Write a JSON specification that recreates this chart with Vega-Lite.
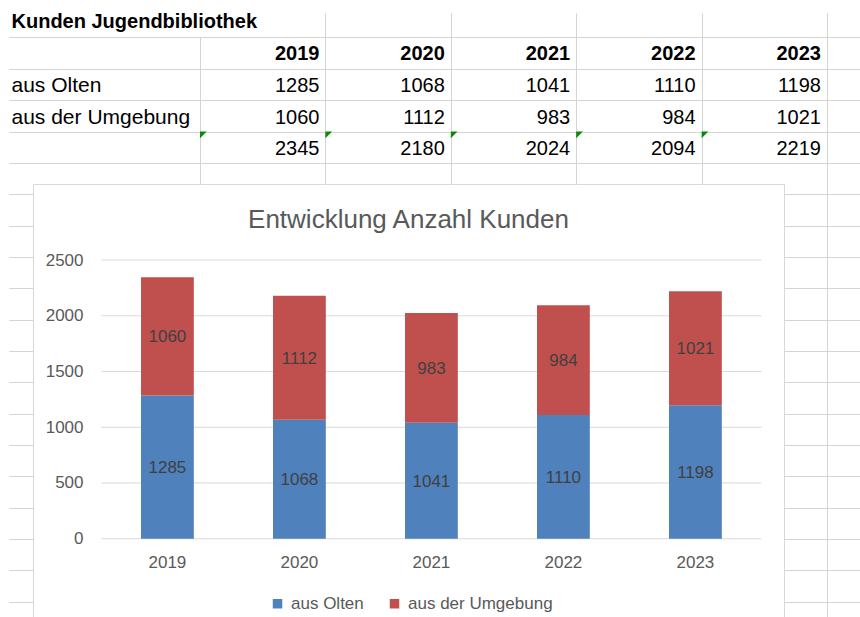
{
  "$schema": "https://vega.github.io/schema/vega-lite/v6.json",
  "padding": {"left": 8, "top": 11, "right": 0, "bottom": 0},
  "config": {"font": "Liberation Sans", "view": {"stroke": null}},
  "datasets": {
    "kunden": [
      {"Jahr": "2019", "Herkunft": "aus Olten", "Anzahl": 1285},
      {"Jahr": "2020", "Herkunft": "aus Olten", "Anzahl": 1068},
      {"Jahr": "2021", "Herkunft": "aus Olten", "Anzahl": 1041},
      {"Jahr": "2022", "Herkunft": "aus Olten", "Anzahl": 1110},
      {"Jahr": "2023", "Herkunft": "aus Olten", "Anzahl": 1198},
      {"Jahr": "2019", "Herkunft": "aus der Umgebung", "Anzahl": 1060},
      {"Jahr": "2020", "Herkunft": "aus der Umgebung", "Anzahl": 1112},
      {"Jahr": "2021", "Herkunft": "aus der Umgebung", "Anzahl": 983},
      {"Jahr": "2022", "Herkunft": "aus der Umgebung", "Anzahl": 984},
      {"Jahr": "2023", "Herkunft": "aus der Umgebung", "Anzahl": 1021},
      {"Jahr": "2019", "Herkunft": "Summe", "Anzahl": 2345},
      {"Jahr": "2020", "Herkunft": "Summe", "Anzahl": 2180},
      {"Jahr": "2021", "Herkunft": "Summe", "Anzahl": 2024},
      {"Jahr": "2022", "Herkunft": "Summe", "Anzahl": 2094},
      {"Jahr": "2023", "Herkunft": "Summe", "Anzahl": 2219}
    ],
    "jahre": [
      {"Jahr": "2019"}, {"Jahr": "2020"}, {"Jahr": "2021"}, {"Jahr": "2022"}, {"Jahr": "2023"}
    ],
    "titel": [
      {"Zeile": "Kunden Jugendbibliothek"}
    ],
    "raster": [
      {"Zeile": 7}, {"Zeile": 8}, {"Zeile": 9}, {"Zeile": 10}, {"Zeile": 11}, {"Zeile": 12}, {"Zeile": 13},
      {"Zeile": 14}, {"Zeile": 15}, {"Zeile": 16}, {"Zeile": 17}, {"Zeile": 18}, {"Zeile": 19}, {"Zeile": 20}
    ],
    "gitter": [
      {"Wert": 0}, {"Wert": 500}, {"Wert": 1000}, {"Wert": 1500}, {"Wert": 2000}, {"Wert": 2500}
    ]
  },
  "width": 751,
  "height": 434,
  "view": {"stroke": "#d9d9d9", "fill": "#ffffff"},
  "title": {
    "text": "Entwicklung Anzahl Kunden",
    "anchor": "middle",
    "frame": "group",
    "fontSize": 26,
    "fontWeight": "normal",
    "color": "#595959",
    "offset": -221
  },
  "layer": [
    {
      "data": {"name": "titel"},
      "mark": {"type": "rule", "opacity": 0},
      "encoding": {
        "y": {
          "field": "Zeile", "type": "nominal",
          "scale": {"type": "band", "range": [-178.5, -147], "paddingInner": 0, "paddingOuter": 0},
          "axis": {
            "orient": "left", "offset": -828, "ticks": false, "domain": false, "grid": false,
            "labelAlign": "left", "labelPadding": 850, "labelOffset": 1, "labelFontSize": 20,
            "labelFontWeight": "bold", "labelColor": "#000000", "labelLimit": 400, "title": null
          }
        }
      }
    },
    {
      "data": {"name": "kunden"},
      "mark": {"type": "text", "align": "right", "baseline": "middle", "dx": -6, "dy": 2, "fontSize": 20, "color": "#000000"},
      "encoding": {
        "x": {
          "field": "Jahr", "type": "ordinal", "bandPosition": 1,
          "scale": {"type": "band", "domain": ["2019", "2020", "2021", "2022", "2023"], "range": [167, 794], "paddingInner": 0, "paddingOuter": 0},
          "axis": {"orient": "top", "tickBand": "extent", "tickSize": 147, "tickColor": "#d4d4d4", "labels": false, "domain": false, "grid": false, "title": null}
        },
        "y": {
          "field": "Herkunft", "type": "nominal",
          "scale": {"type": "band", "domain": ["Kopf", "aus Olten", "aus der Umgebung", "Summe"], "range": [-147, -21], "paddingInner": 0, "paddingOuter": 0},
          "axis": {
            "orient": "left", "offset": -828, "tickBand": "extent", "tickSize": 852, "tickColor": "#d4d4d4",
            "grid": false, "domain": false,
            "labelExpr": "datum.value == 'Kopf' || datum.value == 'Summe' ? '' : datum.value",
            "labelAlign": "left", "labelPadding": -2, "labelOffset": 1.5, "labelFontSize": 21,
            "labelColor": "#000000", "labelLimit": 400, "title": null
          }
        },
        "text": {"field": "Anzahl", "type": "quantitative", "format": "d"}
      }
    },
    {
      "data": {"name": "jahre"},
      "mark": {"type": "text", "align": "right", "baseline": "middle", "dx": -6, "dy": 1, "fontSize": 20, "fontWeight": "bold", "color": "#000000"},
      "encoding": {
        "x": {
          "field": "Jahr", "type": "ordinal", "bandPosition": 1,
          "scale": {"type": "band", "domain": ["2019", "2020", "2021", "2022", "2023"], "range": [167, 794], "paddingInner": 0, "paddingOuter": 0},
          "axis": null
        },
        "y": {
          "datum": "Kopf", "type": "nominal",
          "scale": {"type": "band", "domain": ["Kopf", "aus Olten", "aus der Umgebung", "Summe"], "range": [-147, -21], "paddingInner": 0, "paddingOuter": 0},
          "axis": null
        },
        "text": {"field": "Jahr", "type": "nominal"}
      }
    },
    {
      "data": {"name": "kunden"},
      "transform": [{"filter": "datum.Herkunft == 'Summe'"}],
      "mark": {"type": "point", "shape": "M0,0L1,0L0,1Z", "filled": true, "color": "#0a8a0a", "opacity": 1, "size": 180, "strokeWidth": 0},
      "encoding": {
        "x": {
          "field": "Jahr", "type": "ordinal", "bandPosition": 0,
          "scale": {"type": "band", "domain": ["2019", "2020", "2021", "2022", "2023"], "range": [167, 794], "paddingInner": 0, "paddingOuter": 0},
          "axis": {
            "orient": "top", "tickBand": "extent", "tickSize": 171, "tickColor": "#d4d4d4",
            "tickOpacity": {"condition": {"test": "datum.extra", "value": 0}, "value": 1},
            "labels": false, "domain": false, "grid": false, "title": null
          }
        },
        "y": {
          "field": "Herkunft", "type": "nominal", "bandPosition": 0,
          "scale": {"type": "band", "domain": ["Kopf", "aus Olten", "aus der Umgebung", "Summe"], "range": [-147, -21], "paddingInner": 0, "paddingOuter": 0},
          "axis": null
        }
      }
    },
    {
      "data": {"name": "raster"},
      "mark": {"type": "rule", "opacity": 0},
      "encoding": {
        "y": {
          "field": "Zeile", "type": "ordinal",
          "scale": {"type": "point", "padding": 0.424, "align": 0.387},
          "axis": {"orient": "left", "tickSize": 24, "tickColor": "#d4d4d4", "labels": false, "domain": false, "grid": false, "title": null}
        }
      }
    },
    {
      "data": {"name": "raster"},
      "mark": {"type": "rule", "opacity": 0},
      "encoding": {
        "y": {
          "field": "Zeile", "type": "ordinal",
          "scale": {"type": "point", "padding": 0.424, "align": 0.387},
          "axis": {"orient": "right", "tickSize": 77, "tickColor": "#d4d4d4", "labels": false, "domain": false, "grid": false, "title": null}
        }
      }
    },
    {
      "data": {"name": "raster"},
      "mark": {"type": "rule", "opacity": 0},
      "encoding": {
        "y": {
          "field": "Zeile", "type": "ordinal",
          "scale": {"type": "point", "padding": 0.424, "align": 0.387},
          "axis": {"orient": "right", "offset": 43, "ticks": false, "labels": false, "domain": true, "domainColor": "#d4d4d4", "grid": false, "title": null}
        }
      }
    },
    {
      "data": {"name": "gitter"},
      "mark": {"type": "rule", "color": "#d9d9d9", "strokeWidth": 1},
      "encoding": {
        "y": {"field": "Wert", "type": "quantitative", "scale": {"domain": [-711, 3182], "nice": false, "zero": false}, "axis": null},
        "x": {
          "datum": "2019", "type": "ordinal", "bandPosition": -0.75,
          "scale": {"type": "band", "domain": ["2019", "2020", "2021", "2022", "2023"], "paddingInner": 0.6, "paddingOuter": 0.6447, "align": 0.6346},
          "axis": null
        },
        "x2": {"datum": "2023", "bandPosition": 1.75}
      }
    },
    {
      "data": {"name": "kunden"},
      "transform": [{"filter": "datum.Herkunft != 'Summe'"}],
      "mark": {"type": "bar"},
      "encoding": {
        "x": {
          "field": "Jahr", "type": "ordinal",
          "scale": {"type": "band", "domain": ["2019", "2020", "2021", "2022", "2023"], "paddingInner": 0.6, "paddingOuter": 0.6447, "align": 0.6346},
          "axis": {"orient": "bottom", "offset": -80, "domain": false, "ticks": false, "labelPadding": 16.5, "labelFontSize": 17, "labelColor": "#595959", "labelAngle": 0, "title": null}
        },
        "y": {
          "field": "Anzahl", "type": "quantitative", "stack": "zero",
          "scale": {"domain": [-711, 3182], "nice": false, "zero": false},
          "axis": {"orient": "left", "offset": -68, "values": [0, 500, 1000, 1500, 2000, 2500], "format": "d", "grid": false, "domain": false, "ticks": false, "labelPadding": 18, "labelFontSize": 17, "labelColor": "#595959", "title": null}
        },
        "color": {
          "field": "Herkunft", "type": "nominal",
          "scale": {"domain": ["aus Olten", "aus der Umgebung"], "range": ["#4F81BD", "#C0504D"]},
          "legend": {
            "orient": "none", "legendX": 236, "legendY": 411, "direction": "horizontal", "title": null,
            "symbolType": "square", "symbolSize": 90, "symbolStrokeWidth": 0,
            "labelFontSize": 17, "labelColor": "#595959", "labelOffset": 5, "columnPadding": 22
          }
        },
        "order": {"field": "Herkunft", "sort": "ascending"}
      }
    },
    {
      "data": {"name": "kunden"},
      "transform": [{"filter": "datum.Herkunft != 'Summe'"}],
      "mark": {"type": "text", "baseline": "middle", "dy": 1, "fontSize": 17, "color": "#404040"},
      "encoding": {
        "x": {
          "field": "Jahr", "type": "ordinal",
          "scale": {"type": "band", "domain": ["2019", "2020", "2021", "2022", "2023"], "paddingInner": 0.6, "paddingOuter": 0.6447, "align": 0.6346},
          "axis": null
        },
        "y": {"field": "Anzahl", "type": "quantitative", "stack": "zero", "bandPosition": 0.5, "scale": {"domain": [-711, 3182], "nice": false, "zero": false}, "axis": null},
        "detail": {"field": "Herkunft", "type": "nominal"},
        "order": {"field": "Herkunft", "sort": "ascending"},
        "text": {"field": "Anzahl", "type": "quantitative", "format": "d"}
      }
    }
  ],
  "resolve": {"scale": {"x": "independent", "y": "independent"}, "axis": {"x": "independent", "y": "independent"}}
}
